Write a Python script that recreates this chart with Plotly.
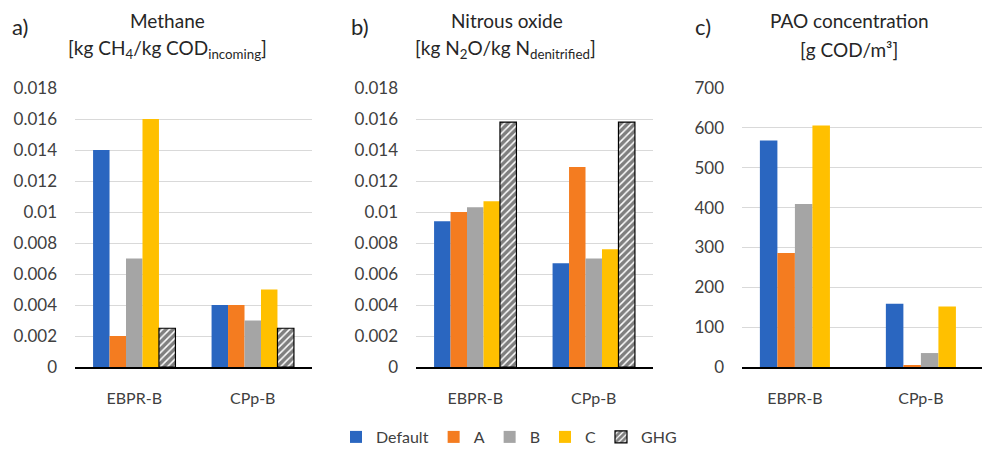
import plotly.graph_objects as go

categories = ["EBPR-B", "CPp-B"]
series_ab = ["Default", "A", "B", "C", "GHG"]
series_c = ["Default", "A", "B", "C"]

methane = {
    "Default": [0.0140, 0.0040],
    "A": [0.0020, 0.0040],
    "B": [0.0070, 0.0030],
    "C": [0.0160, 0.0050],
    "GHG": [0.0025, 0.0025],
}
nitrous = {
    "Default": [0.0094, 0.0067],
    "A": [0.0100, 0.0129],
    "B": [0.0103, 0.0070],
    "C": [0.0107, 0.0076],
    "GHG": [0.0158, 0.0158],
}
pao = {
    "Default": [568, 159],
    "A": [286, 4],
    "B": [409, 35],
    "C": [606, 152],
}

colors = {"Default": "#2A66C0", "A": "#F47C20", "B": "#A5A5A5", "C": "#FFC000", "GHG": "#FFFFFF"}
FONT = "Lato"
W, H = 982, 451
BW = 0.139

fig = go.Figure()

def add_panel(data, names, xa, ya, showleg):
    n = len(names)
    for i, nm in enumerate(names):
        off = -n * BW / 2 + i * BW
        kw = dict(marker_color=colors[nm], marker_line_width=0)
        if nm == "GHG":
            kw = dict(marker=dict(color="white", line=dict(color="black", width=1.2),
                                  pattern=dict(shape="/", fgcolor="black", bgcolor="white",
                                               size=5, solidity=0.7)))
        fig.add_trace(go.Bar(x=categories, y=data[nm], name=nm, xaxis=xa, yaxis=ya,
                             width=BW, offset=off, legendgroup=nm, showlegend=showleg, **kw))

add_panel(methane, series_ab, "x", "y", True)
add_panel(nitrous, series_ab, "x2", "y2", False)
add_panel(pao, series_c, "x3", "y3", False)

ydom = [(H - 367) / H, (H - 88) / H]
tickfont = dict(family=FONT, size=17, color="#404040")
common_x = dict(type="category", showgrid=False, showline=True, linecolor="black", linewidth=1.5,
                ticks="", tickfont=dict(family=FONT, size=16, color="#404040"), ticklabelstandoff=16,
                automargin=False)
common_y = dict(showgrid=True, gridcolor="#D9D9D9", gridwidth=1, zeroline=False, showline=False,
                tickfont=tickfont, ticks="", ticklabelstandoff=17, domain=ydom, automargin=False)

fig.update_layout(
    width=W, height=H, margin=dict(l=0, r=0, t=0, b=0, autoexpand=False),
    paper_bgcolor="white", plot_bgcolor="white", barmode="overlay",
    font=dict(family=FONT, color="#262626"),
    xaxis=dict(domain=[75 / W, 312 / W], anchor="y", range=[-0.5, 1.5], **common_x),
    xaxis2=dict(domain=[416 / W, 653 / W], anchor="y2", range=[-0.5, 1.5], **common_x),
    xaxis3=dict(domain=[742 / W, 1.0], anchor="y3", range=[-0.42, 1.485], **common_x),
    yaxis=dict(anchor="x", range=[0, 0.018], dtick=0.002, **common_y),
    yaxis2=dict(anchor="x2", range=[0, 0.018], dtick=0.002, **common_y),
    yaxis3=dict(anchor="x3", range=[0, 700], dtick=100, **common_y),
    legend=dict(orientation="h", x=509 / W, xanchor="center", y=(H - 437) / H, yanchor="middle",
                xref="container", yref="container",
                font=dict(family=FONT, size=16, color="#404040"), itemwidth=30,
                traceorder="normal", tracegroupgap=0),
)

titles = [
    ("a)", 20, 27), ("Methane", 167, 21), ("[kg CH<sub>4</sub>/kg COD<sub>incoming</sub>]", 167, 49),
    ("b)", 360, 27), ("Nitrous oxide", 507, 21), ("[kg N<sub>2</sub>O/kg N<sub>denitrified</sub>]", 506, 49),
    ("c)", 703, 27), ("PAO concentration", 849, 21), ("[g COD/m³]", 849, 49),
]
for txt, x, y in titles:
    fig.add_annotation(text=txt, x=x / W, y=(H - y) / H, xref="paper", yref="paper",
                       xanchor="center", yanchor="middle", showarrow=False,
                       font=dict(family=FONT, size=19 if len(txt) > 2 else 22, color="#262626"))

fig.write_html("out.html")
